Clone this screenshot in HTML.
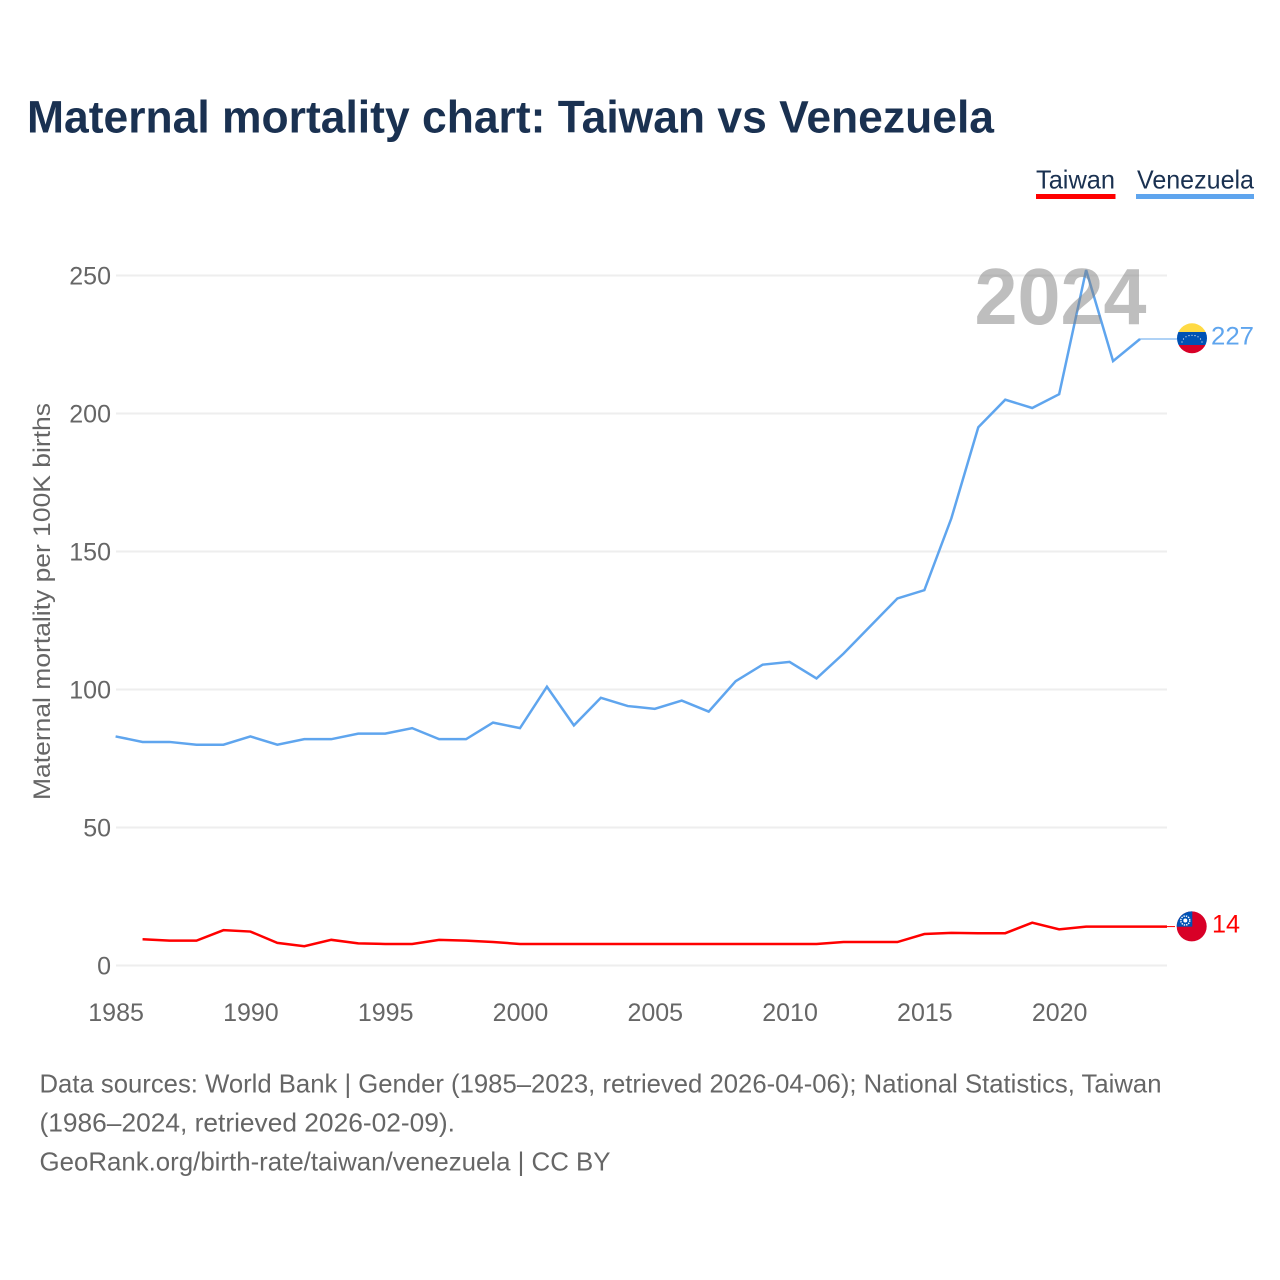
<!DOCTYPE html>
<html lang="en">
<head>
<meta charset="utf-8">
<title>Maternal mortality chart: Taiwan vs Venezuela</title>
<style>
html,body{margin:0;padding:0;background:#fff;width:1280px;height:1280px;overflow:hidden}
svg{display:block}
text{font-family:"Liberation Sans",sans-serif}
</style>
</head>
<body>
<svg id="chart" xmlns="http://www.w3.org/2000/svg" width="1280" height="1280" viewBox="0 0 1280 1280">
  <rect width="1280" height="1280" fill="#fff"/>
  <text x="27" y="132.5" font-size="45" font-weight="700" fill="#1a3151" textLength="967" lengthAdjust="spacingAndGlyphs">Maternal mortality chart: Taiwan vs Venezuela</text>

  <g>
    <g>
      <text x="1036" y="188.5" font-size="26" fill="#1a3151" textLength="79" lengthAdjust="spacingAndGlyphs">Taiwan</text>
      <rect x="1036" y="194" width="79.5" height="5" fill="#ff0000"/>
    </g>
    <g>
      <text x="1137" y="188.5" font-size="26" fill="#1a3151" textLength="117" lengthAdjust="spacingAndGlyphs">Venezuela</text>
      <rect x="1136" y="194" width="118" height="5" fill="#5fa5ee"/>
    </g>
  </g>

  <g id="grid"></g>
  <g id="yticks"></g>
  <g id="xticks"></g>
  <text transform="translate(50 800) rotate(-90)" font-size="24" fill="#666" textLength="397" lengthAdjust="spacingAndGlyphs">Maternal mortality per 100K births</text>

  <g id="series"></g>

  <text x="1060.5" y="324" font-size="80" font-weight="700" fill="#7d7d7d" fill-opacity="0.5" text-anchor="middle" textLength="172" lengthAdjust="spacingAndGlyphs">2024</text>

  <defs>
    <clipPath id="clip-ve"><circle cx="1192" cy="338.3" r="15"/></clipPath>
    <clipPath id="clip-tw"><circle cx="1191.7" cy="926.4" r="15"/></clipPath>
  </defs>

  <g clip-path="url(#clip-ve)">
    <rect x="1176" y="323" width="32" height="9" fill="#ffda44"/>
    <rect x="1176" y="332" width="32" height="13" fill="#0052b4"/>
    <rect x="1176" y="345" width="32" height="10" fill="#d80027"/>
    <g fill="#f0f0f0">
      <circle cx="1182" cy="342" r="0.6"/>
      <circle cx="1183.5" cy="339" r="0.6"/>
      <circle cx="1186" cy="336.8" r="0.6"/>
      <circle cx="1189" cy="335.6" r="0.6"/>
      <circle cx="1192" cy="335.3" r="0.6"/>
      <circle cx="1195" cy="335.6" r="0.6"/>
      <circle cx="1198" cy="336.8" r="0.6"/>
      <circle cx="1200.5" cy="339" r="0.6"/>
      <circle cx="1202" cy="342" r="0.6"/>
    </g>
  </g>
  <g clip-path="url(#clip-tw)">
    <rect x="1176" y="910" width="32" height="33" fill="#d80027"/>
    <rect x="1176" y="910" width="16.3" height="16.7" fill="#0052b4"/>
    <circle cx="1185.3" cy="920.5" r="4.5" fill="none" stroke="#fff" stroke-width="1.4" stroke-dasharray="1.4 1"/>
    <circle cx="1185.3" cy="920.5" r="2" fill="#fff"/>
  </g>
  <text x="1211" y="344.5" font-size="25" fill="#5fa5ee" textLength="43" lengthAdjust="spacingAndGlyphs">227</text>
  <text x="1212" y="932.5" font-size="25" fill="#ff0000" textLength="28" lengthAdjust="spacingAndGlyphs">14</text>

  <g font-size="26" fill="#666">
    <text x="39.5" y="1092.5" textLength="1122" lengthAdjust="spacingAndGlyphs">Data sources: World Bank | Gender (1985–2023, retrieved 2026-04-06); National Statistics, Taiwan</text>
    <text x="39.5" y="1131.5" textLength="415.5" lengthAdjust="spacingAndGlyphs">(1986–2024, retrieved 2026-02-09).</text>
    <text x="39.5" y="1170.5" textLength="571" lengthAdjust="spacingAndGlyphs">GeoRank.org/birth-rate/taiwan/venezuela | CC BY</text>
  </g>
</svg>

<script>
const yTickValues = [0, 50, 100, 150, 200, 250];
const xTickYears = [1985, 1990, 1995, 2000, 2005, 2010, 2015, 2020];
const venezuelaYears = [1985,1986,1987,1988,1989,1990,1991,1992,1993,1994,1995,1996,1997,1998,1999,2000,2001,2002,2003,2004,2005,2006,2007,2008,2009,2010,2011,2012,2013,2014,2015,2016,2017,2018,2019,2020,2021,2022,2023];
const venezuelaValues = [83,81,81,80,80,83,80,82,82,84,84,86,82,82,88,86,101,87,97,94,93,96,92,103,109,110,104,113,123,133,136,162,195,205,202,207,252,219,227];
const taiwanYears = [1986,1987,1988,1989,1990,1991,1992,1993,1994,1995,1996,1997,1998,1999,2000,2001,2002,2003,2004,2005,2006,2007,2008,2009,2010,2011,2012,2013,2014,2015,2016,2017,2018,2019,2020,2021,2022,2023,2024];
const taiwanValues = [9.5,9,9,12.8,12.3,8.2,7,9.3,8,7.8,7.8,9.3,9,8.5,7.8,7.8,7.8,7.8,7.8,7.8,7.8,7.8,7.8,7.8,7.8,7.8,8.5,8.5,8.5,11.4,11.8,11.7,11.7,15.5,13.1,14.1,14.1,14.1,14.1];

const NS = 'http://www.w3.org/2000/svg';
function xScale(year) { return 115.6 + (year - 1985) * (1167 - 115.6) / 39; }
function yScale(value) { return 965.5 - value * 2.76; }

function make(tag, attrs, parent) {
  const el = document.createElementNS(NS, tag);
  for (const k in attrs) el.setAttribute(k, attrs[k]);
  parent.appendChild(el);
  return el;
}

const gridGroup = document.getElementById('grid');
const yGroup = document.getElementById('yticks');
const xGroup = document.getElementById('xticks');
const seriesGroup = document.getElementById('series');

yTickValues.forEach(function (v) {
  const line = make('line', { x1: 116, x2: 1167, y1: yScale(v), y2: yScale(v), stroke: '#eeeeee', 'stroke-width': 2 }, gridGroup);
  
  
  const label = make('text', { x: 111, y: yScale(v) + 9, 'font-size': 25, fill: '#666', 'text-anchor': 'end' }, yGroup);
  label.textContent = String(v);
  
  
});

xTickYears.forEach(function (y) {
  const label = make('text', { x: xScale(y) + 0.5, y: 1021, 'font-size': 25, fill: '#666', 'text-anchor': 'middle' }, xGroup);
  label.textContent = String(y);
  
  
});

function linePoints(years, values) {
  return years.map(function (y, i) { return xScale(y).toFixed(2) + ',' + yScale(values[i]).toFixed(2); }).join(' ');
}

const veLine = make('polyline', { points: linePoints(venezuelaYears, venezuelaValues), fill: 'none', stroke: '#5fa5ee', 'stroke-width': 2.5, 'stroke-linejoin': 'miter' }, seriesGroup);



const twLine = make('polyline', { points: linePoints(taiwanYears, taiwanValues), fill: 'none', stroke: '#ff0000', 'stroke-width': 2.5, 'stroke-linejoin': 'miter' }, seriesGroup);



const veLastY = yScale(venezuelaValues[venezuelaValues.length - 1]);
const veLeader = make('line', { x1: xScale(venezuelaYears[venezuelaYears.length - 1]), x2: 1177, y1: veLastY, y2: veLastY, stroke: '#5fa5ee', 'stroke-width': 1 }, seriesGroup);



const twLastY = yScale(taiwanValues[taiwanValues.length - 1]);
const twLeader = make('line', { x1: xScale(taiwanYears[taiwanYears.length - 1]), x2: 1175, y1: twLastY, y2: twLastY, stroke: '#ff0000', 'stroke-width': 1 }, seriesGroup);


</script>
</body>
</html>
